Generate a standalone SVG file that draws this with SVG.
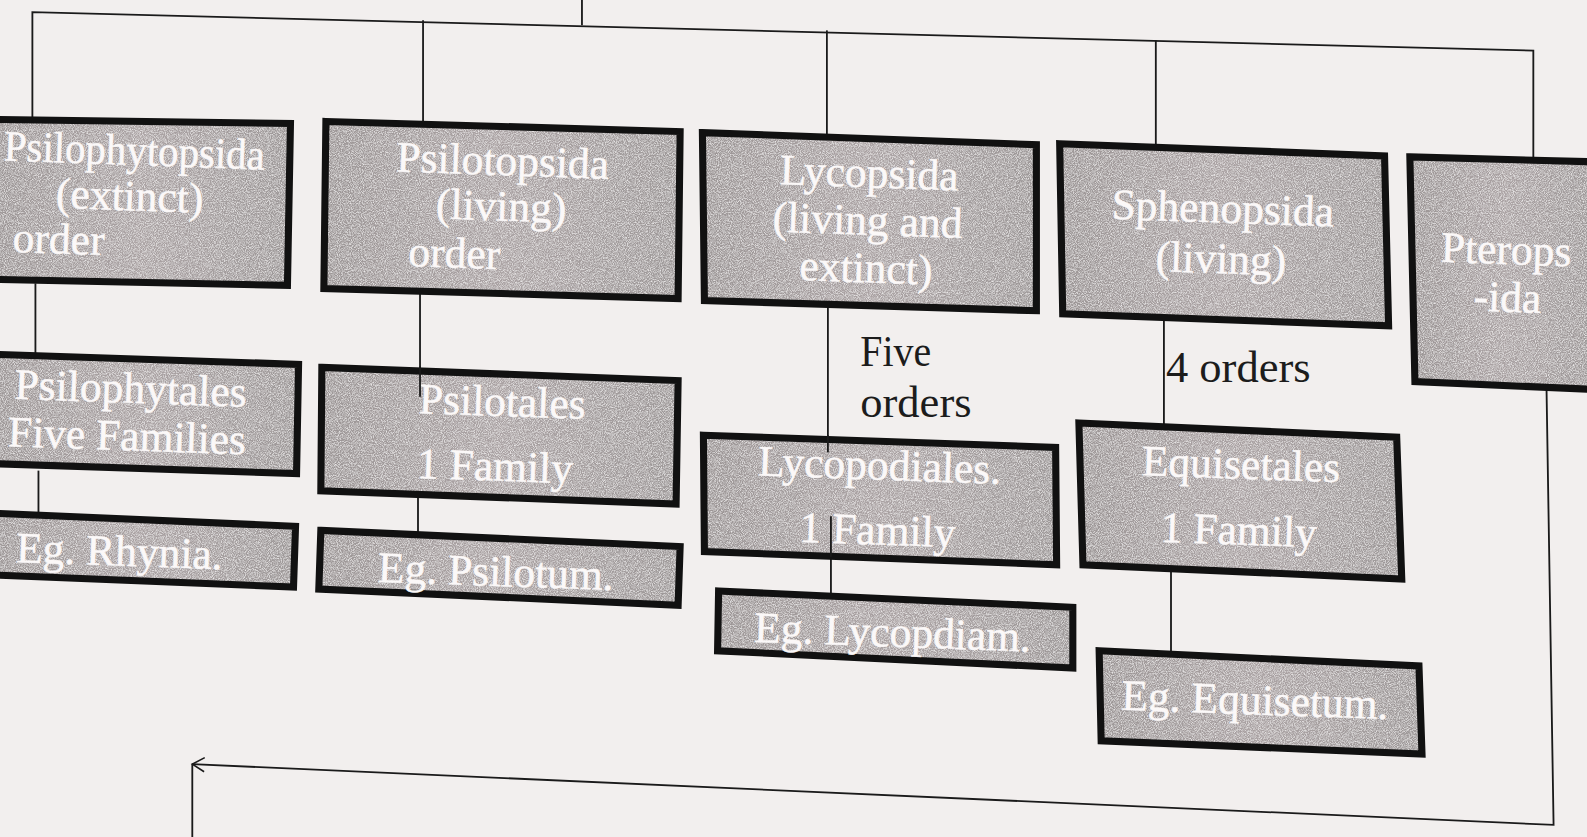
<svg xmlns="http://www.w3.org/2000/svg" width="1587" height="837" viewBox="0 0 1587 837">
<style>
.bf{fill:url(#g);filter:url(#grain)}
.bs{fill:none;stroke:#111;stroke-width:7;stroke-linejoin:miter}
.t{font-family:"Liberation Serif","DejaVu Serif",serif;font-size:43px;fill:#fbf8f8;stroke:#fbf8f8;stroke-width:0.5;text-anchor:middle}
.ts{text-anchor:start}
.lbl{font-family:"Liberation Serif","DejaVu Serif",serif;font-size:44px;fill:#1c1c1c}
.c{fill:none;stroke:#1a1a1a;stroke-width:1.8}
</style>
<defs>
<marker id="arr" markerWidth="16" markerHeight="16" refX="14" refY="8" orient="auto" markerUnits="userSpaceOnUse">
<path d="M2,1 L14,8 L2,15" fill="none" stroke="#1a1a1a" stroke-width="1.6"/>
</marker>
<linearGradient id="g" x1="0" y1="0" x2="1" y2="0">
<stop offset="0" stop-color="#9c9696"/>
<stop offset="0.5" stop-color="#aaa2a3"/>
<stop offset="1" stop-color="#9d9898"/>
</linearGradient>
<filter id="grain" x="0" y="0" width="1" height="1">
<feTurbulence type="fractalNoise" baseFrequency="1.1" numOctaves="2" seed="3" result="n"/>
<feColorMatrix in="n" type="matrix" values="0 0 0 0 0.95  0 0 0 0 0.94  0 0 0 0 0.94  0 0 0 1.6 -0.6" result="w"/>
<feComposite in="w" in2="SourceGraphic" operator="in" result="wi"/>
<feMerge><feMergeNode in="SourceGraphic"/><feMergeNode in="wi"/></feMerge>
</filter>
</defs>
<rect width="1587" height="837" fill="#f2efee"/>
<g transform="scale(1.0121)">
<g id="connectors">
<path class="c" d="M32,118 L32,12 L1515,50 L1515,157"/>
<path class="c" d="M575,0 L575,25"/>
<path class="c" d="M418,20 L418,122"/>
<path class="c" d="M817,30 L817,133"/>
<path class="c" d="M1142,40 L1142,145"/>
<path class="c" d="M35,280 L35,352"/>
<path class="c" d="M38,465 L38,510"/>
<path class="c" d="M415,290 L415,390"/>
<path class="c" d="M413,488 L413,528"/>
<path class="c" d="M818,302 L818,432"/>
<path class="c" d="M821,535 L821,588"/>
<path class="c" d="M1150,315 L1150,420"/>
<path class="c" d="M1157,565 L1157,645"/>
<path class="c" d="M1528,382 L1535,815 L190,755" marker-end="url(#arr)"/>
<path class="c" d="M190,755 L190,830"/>
</g>
<g id="psilophytopsida">
<polygon class="bf" points="-10,118 287,122 284,282 -10,276"/>
<polygon class="bs" points="-10,118 287,122 284,282 -10,276"/>
<g transform="rotate(2 131 200)"><text class="t" x="131" y="163" textLength="258" lengthAdjust="spacingAndGlyphs">Psilophytopsida</text><text class="t" x="128" y="208">(extinct)</text><text class="t ts" x="14" y="253">order</text></g>
</g>
<g id="psilotopsida">
<polygon class="bf" points="322,120 672,130 670,295 320,285"/>
<polygon class="bs" points="322,120 672,130 670,295 320,285"/>
<g transform="rotate(2 495 210)"><text class="t" x="495" y="173">Psilotopsida</text><text class="t" x="495" y="218">(living)</text><text class="t ts" x="405" y="266">order</text></g>
</g>
<g id="lycopsida">
<polygon class="bf" points="694,131 1024,143 1024,307 696,297"/>
<polygon class="bs" points="694,131 1024,143 1024,307 696,297"/>
<g transform="rotate(2 857 225)"><text class="t" x="857" y="185">Lycopsida</text><text class="t" x="857" y="232">(living and</text><text class="t" x="857" y="279">extinct)</text></g>
</g>
<g id="sphenopsida">
<polygon class="bf" points="1047,142 1368,154 1372,322 1050,310"/>
<polygon class="bs" points="1047,142 1368,154 1372,322 1050,310"/>
<g transform="rotate(2 1207 240)"><text class="t" x="1207" y="220">Sphenopsida</text><text class="t" x="1207" y="270">(living)</text></g>
</g>
<g id="pteropsida">
<polygon class="bf" points="1393,155 1580,160 1580,385 1398,377"/>
<polygon class="bs" points="1393,155 1580,160 1580,385 1398,377"/>
<g transform="rotate(2 1488 280)"><text class="t" x="1487" y="261">Pterops</text><text class="t" x="1490" y="308">-ida</text></g>
</g>
<g id="psilophytales">
<polygon class="bf" points="-10,350 295,360 293,468 -10,458"/>
<polygon class="bs" points="-10,350 295,360 293,468 -10,458"/>
<g transform="rotate(2 128 415)"><text class="t" x="128" y="398">Psilophytales</text><text class="t" x="126" y="445">Five Families</text></g>
</g>
<g id="psilotales">
<polygon class="bf" points="318,363 670,376 668,498 317,485"/>
<polygon class="bs" points="318,363 670,376 668,498 317,485"/>
<g transform="rotate(2 493 435)"><text class="t" x="495" y="411">Psilotales</text><text class="t" x="490" y="475">1 Family</text></g>
</g>
<g id="lycopodiales">
<polygon class="bf" points="695,430 1043,442 1044,558 696,545"/>
<polygon class="bs" points="695,430 1043,442 1044,558 696,545"/>
<g transform="rotate(2 868 495)"><text class="t" x="868" y="474">Lycopodiales.</text><text class="t" x="868" y="538">1 Family</text></g>
</g>
<g id="equisetales">
<polygon class="bf" points="1066,418 1380,432 1385,572 1070,558"/>
<polygon class="bs" points="1066,418 1380,432 1385,572 1070,558"/>
<g transform="rotate(2 1225 495)"><text class="t" x="1225" y="473">Equisetales</text><text class="t" x="1225" y="538">1 Family</text></g>
</g>
<g id="rhynia">
<polygon class="bf" points="-10,507 292,520 290,580 -10,568"/>
<polygon class="bs" points="-10,507 292,520 290,580 -10,568"/>
<g transform="rotate(2 118 545)"><text class="t" x="118" y="559">Eg. Rhynia.</text></g>
</g>
<g id="psilotum">
<polygon class="bf" points="317,524 672,540 670,598 315,582"/>
<polygon class="bs" points="317,524 672,540 670,598 315,582"/>
<g transform="rotate(2 490 565)"><text class="t" x="490" y="579">Eg. Psilotum.</text></g>
</g>
<g id="lycopdiam">
<polygon class="bf" points="710,584 1060,600 1060,660 709,643"/>
<polygon class="bs" points="710,584 1060,600 1060,660 709,643"/>
<g transform="rotate(2 882 625)"><text class="t" x="882" y="639">Eg. Lycopdiam.</text></g>
</g>
<g id="equisetum">
<polygon class="bf" points="1086,643 1402,658 1405,745 1088,732"/>
<polygon class="bs" points="1086,643 1402,658 1405,745 1088,732"/>
<g transform="rotate(2 1240 692)"><text class="t" x="1240" y="706">Eg. Equisetum.</text></g>
</g>
<g id="labels">
<text class="lbl" x="850" y="362" textLength="70" lengthAdjust="spacingAndGlyphs">Five</text>
<text class="lbl" x="850" y="412">orders</text>
<text class="lbl" x="1152" y="377">4 orders</text>
</g>
<g id="connectors-over">
<path class="c" d="M415,362 L415,392"/>
<path class="c" d="M818,430 L818,447"/>
<path class="c" d="M821,510 L821,550"/>
</g>
</g>
</svg>
